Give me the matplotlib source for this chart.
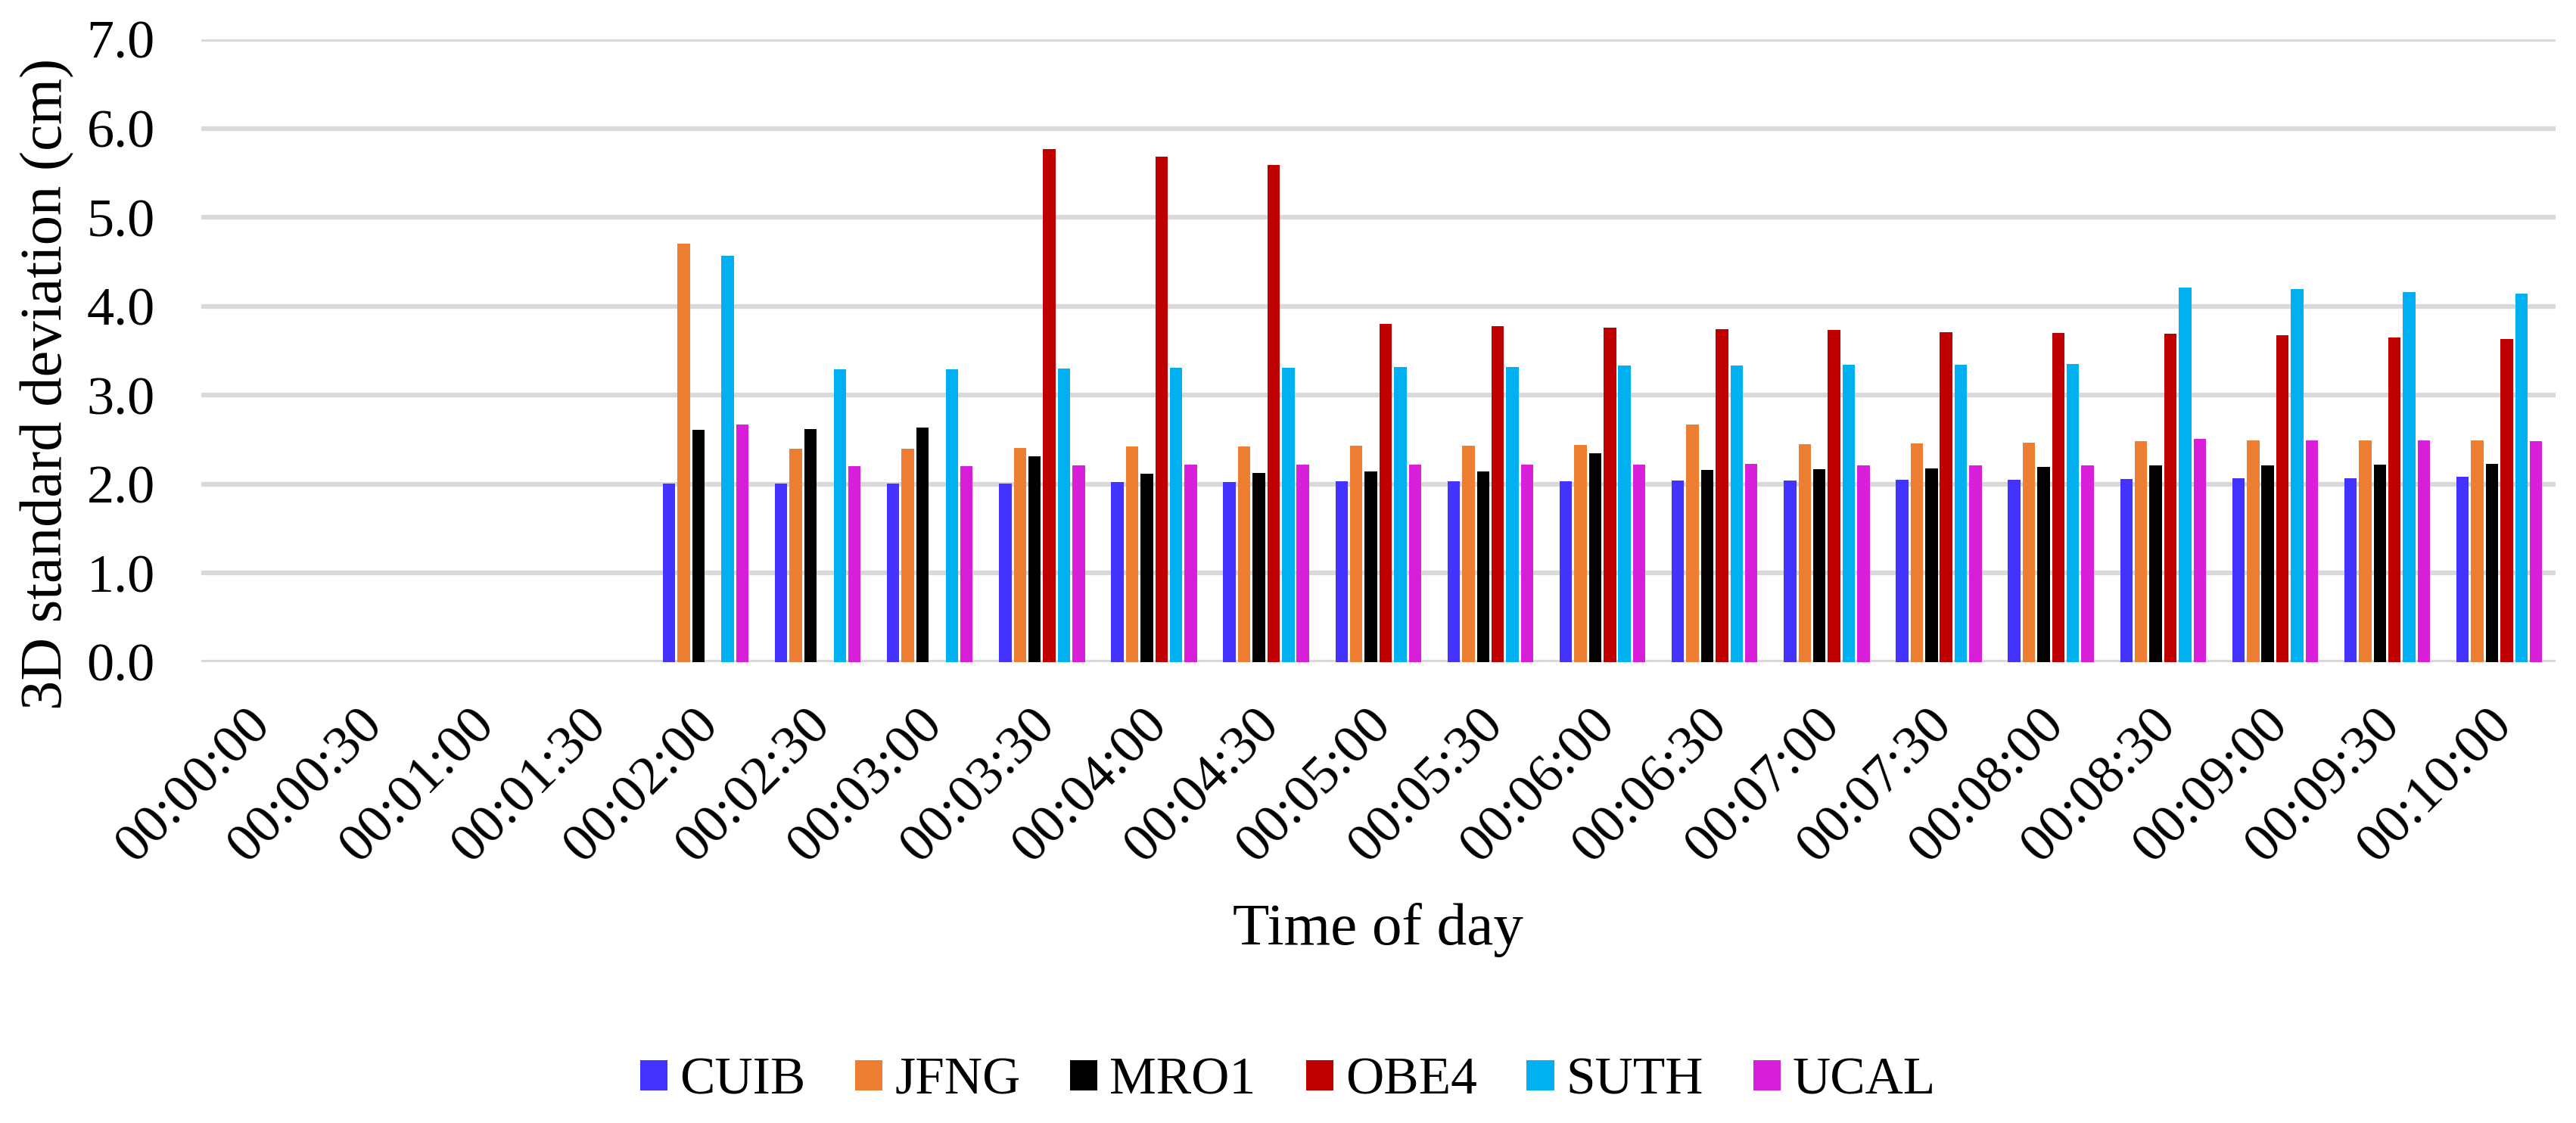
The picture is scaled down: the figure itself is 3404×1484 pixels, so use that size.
import numpy as np
import matplotlib.pyplot as plt
from matplotlib.transforms import ScaledTranslation

plt.rcParams['font.family'] = ['Liberation Serif', 'DejaVu Serif']

times = ['00:00:00', '00:00:30', '00:01:00', '00:01:30', '00:02:00', '00:02:30',
         '00:03:00', '00:03:30', '00:04:00', '00:04:30', '00:05:00', '00:05:30',
         '00:06:00', '00:06:30', '00:07:00', '00:07:30', '00:08:00', '00:08:30',
         '00:09:00', '00:09:30', '00:10:00']

nan = np.nan
cuib = [nan, nan, nan, nan, 2.01, 2.01, 2.01, 2.01, 2.02, 2.02, 2.03, 2.03,
        2.03, 2.04, 2.04, 2.05, 2.05, 2.06, 2.07, 2.07, 2.08]
jfng = [nan, nan, nan, nan, 4.70, 2.40, 2.40, 2.41, 2.42, 2.42, 2.43, 2.43,
        2.44, 2.67, 2.45, 2.46, 2.47, 2.48, 2.49, 2.49, 2.49]
mro1 = [nan, nan, nan, nan, 2.61, 2.62, 2.64, 2.31, 2.12, 2.13, 2.14, 2.14,
        2.35, 2.16, 2.17, 2.18, 2.19, 2.21, 2.21, 2.22, 2.23]
obe4 = [nan, nan, nan, nan, nan, nan, nan, 5.77, 5.68, 5.59, 3.80, 3.78,
        3.76, 3.74, 3.73, 3.71, 3.70, 3.69, 3.67, 3.65, 3.63]
suth = [nan, nan, nan, nan, 4.57, 3.29, 3.29, 3.30, 3.31, 3.31, 3.32, 3.32,
        3.33, 3.33, 3.34, 3.34, 3.35, 4.21, 4.19, 4.16, 4.14]
ucal = [nan, nan, nan, nan, 2.67, 2.20, 2.20, 2.21, 2.22, 2.22, 2.22, 2.22,
        2.22, 2.23, 2.21, 2.21, 2.21, 2.51, 2.49, 2.49, 2.48]

stations = ['CUIB', 'JFNG', 'MRO1', 'OBE4', 'SUTH', 'UCAL']
series = [cuib, jfng, mro1, obe4, suth, ucal]
colors = ['#4433FF', '#ED7D31', '#000000', '#C00000', '#00B0F0', '#D91ED9']

fig = plt.figure(figsize=(34.04, 14.84), dpi=100)
ax = fig.add_axes([0.0781, 0.4104, 0.9139, 0.5546])

x = np.arange(len(times))
step = 0.131
width = 0.111
for i, (name, vals, c) in enumerate(zip(stations, series, colors)):
    ax.bar(x + (i - 2.5) * step, vals, width=width, color=c, label=name, zorder=3)

ax.set_xlim(-0.5, len(times) - 0.5)
ax.set_ylim(0, 7)
ax.set_yticks(np.arange(0, 7.1, 1.0))
ax.set_yticklabels([f'{v:.1f}' for v in np.arange(0, 7.1, 1.0)])
ax.set_xticks(x)
ax.set_xticklabels(times, rotation=45, ha='right', rotation_mode='anchor')
ax.tick_params(axis='both', length=0, labelsize=52)
ax.tick_params(axis='x', pad=36)
ax.tick_params(axis='y', pad=44)
# nudge rotated time labels a little left so they end under the groups
shift = ScaledTranslation(-0.16, 0, fig.dpi_scale_trans)
for lbl in ax.get_xticklabels():
    lbl.set_transform(lbl.get_transform() + shift)
ax.yaxis.grid(True, color='#D9D9D9', linewidth=4.5, zorder=0)
for s in ax.spines.values():
    s.set_visible(False)

ax.set_ylabel('3D standard deviation (cm)', fontsize=56.5)
ax.yaxis.set_label_coords(-0.054, 0.447)
ax.set_xlabel('Time of day', fontsize=57)
ax.xaxis.set_label_coords(0.500, -0.386)

fig.legend(loc='center', bbox_to_anchor=(0.5, 0.037), ncol=6, frameon=False,
           fontsize=50, handlelength=0.52, handleheight=0.52, handletextpad=0.23,
           columnspacing=0.95)

fig.savefig('out.png', dpi=100)
